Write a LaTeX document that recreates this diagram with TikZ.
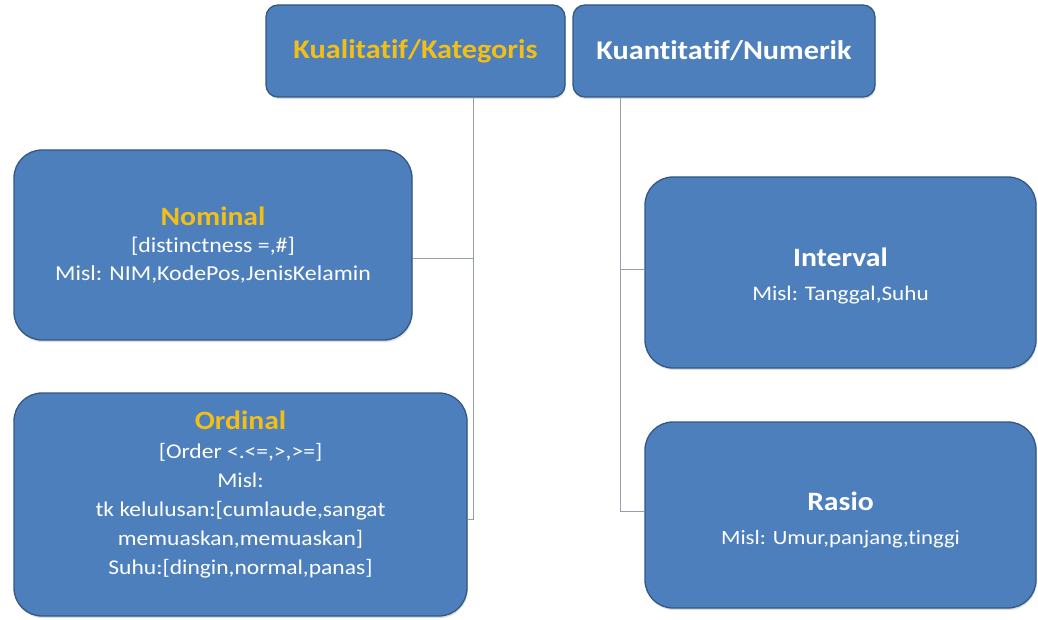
\documentclass[tikz,border=0pt]{standalone}
\usepackage{fontspec}
\setmainfont{Carlito}[FakeStretch=1.12, Ligatures=NoCommon]
\usetikzlibrary{shadows,calc}
\definecolor{boxblue}{RGB}{77,127,188}
\definecolor{boxedge}{RGB}{52,88,132}
\definecolor{titleorange}{RGB}{242,190,24}
\definecolor{wire}{RGB}{150,158,170}
\begin{document}
\begin{tikzpicture}[x=1pt,y=-1pt,
  box/.style={draw=boxedge, line width=1.3pt, fill=boxblue, inner sep=0pt,
    drop shadow={opacity=0.25, shadow xshift=0.8pt, shadow yshift=-2pt}},
  topbox/.style={box, rounded corners=12pt, minimum height=92pt},
  bigbox/.style={box, rounded corners=28pt},
  txt/.style={align=center, text=white, font=\fontsize{20.5}{29}\selectfont},
  wire/.style={draw=wire, line width=0.8pt}]
\useasboundingbox (0,0) rectangle (1038,620);
\fill[white] (0,0) rectangle (1038,620);

% category headers
\node[topbox, minimum width=299pt] (kual) at (415.5,51)
  {\textcolor{titleorange}{\bfseries\fontsize{27}{30}\selectfont Kualitatif/Kategoris}};
\node[topbox, minimum width=302pt] (kuan) at (724,51)
  {\textcolor{white}{\bfseries\fontsize{27}{30}\selectfont Kuantitatif/Numerik}};

% scale boxes
\node[bigbox, minimum width=398pt, minimum height=190pt] (nom) at (213,245) {};
\node[bigbox, minimum width=453pt, minimum height=223pt] (ord) at (240.5,504.5) {};
\node[bigbox, minimum width=391pt, minimum height=191pt] (int) at (840.5,272.5) {};
\node[bigbox, minimum width=391pt, minimum height=186pt] (ras) at (840.5,515) {};

\node[txt, font=\fontsize{21.3}{27.5}\selectfont] (nomt) at ($(nom.center)+(0,0)$)
  {{\color{titleorange}\fontsize{26.5}{27.5}\selectfont\bfseries Nominal}\\
   {[}distinctness =,\#{]}\\
   Misl: NIM,KodePos,JenisKelamin};
\node[txt, font=\fontsize{21}{29}\selectfont] (ordt) at ($(ord.center)+(0,-10)$)
  {{\color{titleorange}\fontsize{26.5}{29}\selectfont\bfseries Ordinal}\\
   {[}Order <.<=,>,>={]}\\
   Misl:\\
   tk kelulusan:{[}cumlaude,sangat\\
   memuaskan,memuaskan{]}\\
   Suhu:{[}dingin,normal,panas{]}};
\node[txt, font=\fontsize{20.7}{34}\selectfont] (intt) at ($(int.center)+(0,3)$)
  {{\fontsize{26.5}{34}\selectfont\bfseries Interval}\\
   Misl: Tanggal,Suhu};
\node[txt, font=\fontsize{20.3}{34}\selectfont] (rast) at ($(ras.center)+(0,5)$)
  {{\fontsize{26.5}{34}\selectfont\bfseries Rasio}\\
   Misl: Umur,panjang,tinggi};

% connectors
\draw[wire] ([xshift=57.5pt]kual.south) |- ([yshift=-13pt]nom.east);
\draw[wire] ([xshift=57.5pt]kual.south) |- ([yshift=-14.5pt]ord.east);
\draw[wire] ([xshift=-104pt]kuan.south) |- ([yshift=3.5pt]int.west);
\draw[wire] ([xshift=-104pt]kuan.south) |- ([yshift=4pt]ras.west);
\end{tikzpicture}
\end{document}
